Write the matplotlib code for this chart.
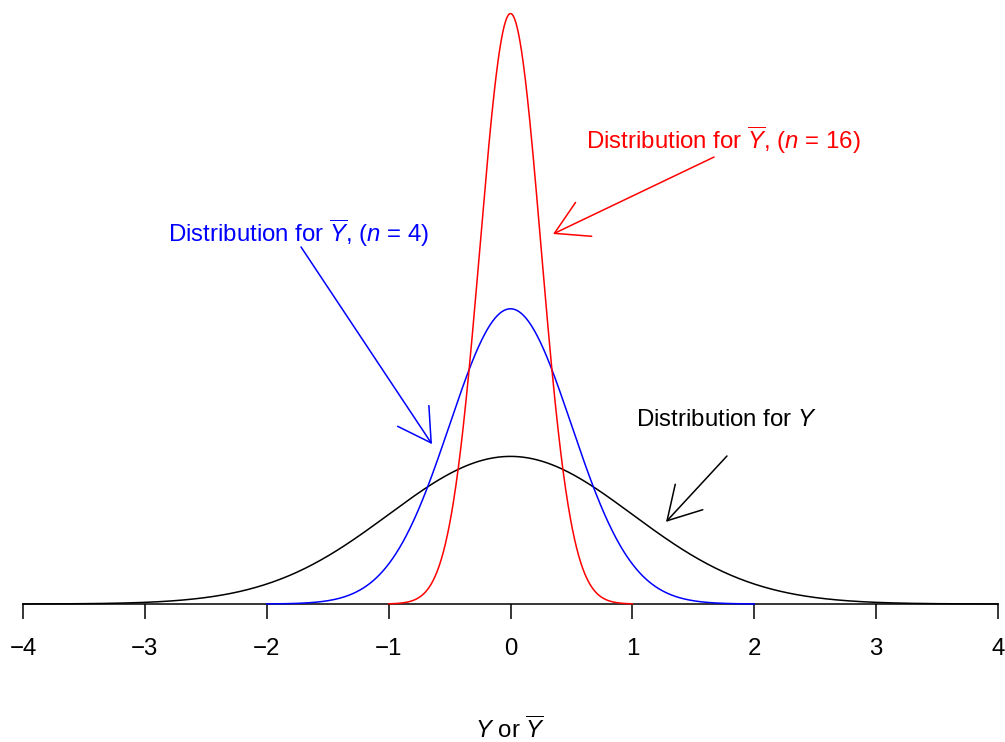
import numpy as np
import matplotlib
matplotlib.use("Agg")
import matplotlib.pyplot as plt

plt.rcParams['font.family'] = ['Liberation Sans', 'DejaVu Sans']
plt.rcParams['mathtext.fontset'] = 'custom'
plt.rcParams['mathtext.rm'] = 'Liberation Sans'
plt.rcParams['mathtext.it'] = 'Liberation Sans:italic'
plt.rcParams['axes.unicode_minus'] = True

# ---- data ----
pop_mean = 0.0
pop_sd = 1.0
sample_sizes = [1, 4, 16]
curve_colors = ['black', 'blue', 'red']
x_ticks = [-4, -3, -2, -1, 0, 1, 2, 3, 4]

labels = [r"Distribution for $\mathit{Y}$",
          r"Distribution for $\overline{\mathit{Y}}$, ($\mathit{n}$ = 4)",
          r"Distribution for $\overline{\mathit{Y}}$, ($\mathit{n}$ = 16)"]
label_x = [1.768, -1.740, 1.748]
label_y = [0.497, 1.003, 1.254]
arrow_start_x = [1.776, -1.719, 1.670]
arrow_start_y = [0.400, 0.965, 1.208]
arrow_end_x = [1.276, -0.644, 0.349]
arrow_end_y = [0.222, 0.432, 1.000]

FS = 17.3
W, H = 1005, 742
fig = plt.figure(figsize=(W / 100, H / 100), dpi=100)
ax = fig.add_axes([23 / W, (H - 604) / H, 975 / W, 602 / H])
ax.set_xlim(-4, 4)
ax.set_ylim(0, 602 / 370)

for n, c in zip(sample_sizes, curve_colors):
    sd = pop_sd / np.sqrt(n)
    xs = np.linspace(pop_mean - 4 * sd, pop_mean + 4 * sd, 600)
    ys = np.exp(-0.5 * ((xs - pop_mean) / sd) ** 2) / (sd * np.sqrt(2 * np.pi))
    ax.plot(xs, ys, color=c, lw=1.1, clip_on=False, zorder=3)

for i in range(3):
    ax.text(label_x[i], label_y[i], labels[i], color=curve_colors[i],
            ha='center', va='center', fontsize=FS)
    ax.annotate('', xy=(arrow_end_x[i], arrow_end_y[i]),
                xytext=(arrow_start_x[i], arrow_start_y[i]),
                arrowprops=dict(arrowstyle='->,head_length=23.3,head_width=13.5',
                                mutation_scale=1, color=curve_colors[i],
                                lw=1.1, shrinkA=0, shrinkB=0))

for s in ['left', 'right', 'top']:
    ax.spines[s].set_visible(False)
ax.spines['bottom'].set_linewidth(1.1)
ax.set_yticks([])
ax.set_xticks(x_ticks)
ax.set_xticklabels([str(t).replace('-', '\u2212') for t in x_ticks])
ax.tick_params(axis='x', direction='out', length=10.8, width=1.1, pad=13.7, labelsize=FS)
ax.set_xlabel(r"$\mathit{Y}$ or $\overline{\mathit{Y}}$", fontsize=FS, labelpad=40)

fig.savefig("out.png", dpi=100)
